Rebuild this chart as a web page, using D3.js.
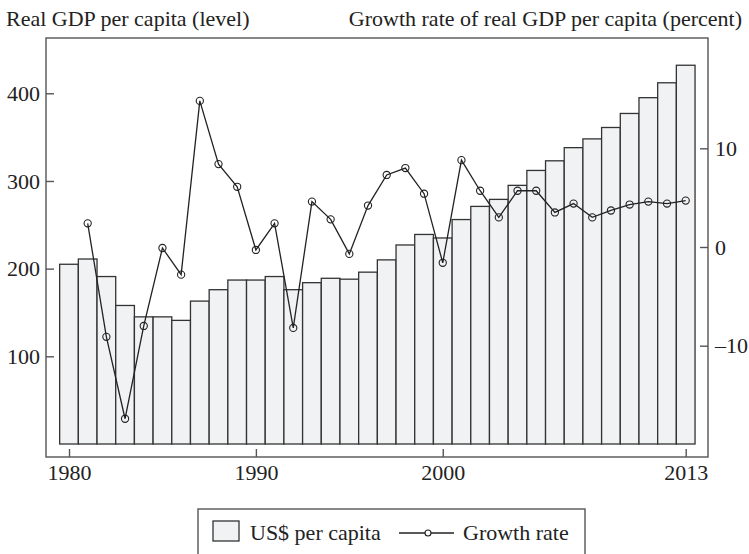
<!DOCTYPE html>
<html>
<head>
<meta charset="utf-8">
<script src="https://cdn.jsdelivr.net/npm/d3@7"></script>
<style>
  body { margin: 0; background: #fff; }
  text { font-family: "Liberation Serif", "DejaVu Serif", serif; fill: #222; }
</style>
</head>
<body>
<script>
var width = 749, height = 554

var years = d3.range(1980, 2014)
var gdpLevel = [205, 211, 191, 158, 145, 145, 141, 163, 176, 187, 187, 191, 176,
  184, 189, 188, 196, 210, 227, 239, 235, 256, 271, 279, 295, 312, 323,
  338, 348, 361, 377, 395, 412, 432]
// growth rate starts in 1981
var growthYears = d3.range(1981, 2014)
var growthRate = [2.4, -9.1, -17.4, -8.0, -0.1, -2.8, 14.8, 8.4, 6.1, -0.3, 2.4,
  -8.2, 4.6, 2.8, -0.7, 4.2, 7.3, 8.0, 5.4, -1.6, 8.8, 5.7, 3.0, 5.7, 5.7,
  3.5, 4.4, 3.0, 3.7, 4.3, 4.6, 4.4, 4.7]
var xTicks = [1980, 1990, 2000, 2013]
var leftTicks = [100, 200, 300, 400]
var rightTicks = [-10, 0, 10]

var frame = {left: 46, right: 708, top: 38, bottom: 457}
var fontSize = "22px"

var svg = d3.select("body")
    .append("svg")
    .attr("width", width)
    .attr("height", height);

var x = d3.scaleLinear().domain([1980, 2013]).range([69, 685.7])
var y = d3.scaleLinear().domain([0, 400]).range([444, 93.3])
var y2 = d3.scaleLinear().domain([-10, 10]).range([345.7, 148.3])
var barW = x(1981) - x(1980)

// bars
svg.selectAll("rect.bar")
    .data(years)
  .enter().append("rect")
    .attr("class", "bar")
    .attr("x", function(d){ return x(d) - barW / 2; })
    .attr("width", barW)
    .attr("y", function(d, i){ return y(gdpLevel[i]); })
    .attr("height", function(d, i){ return y(0) - y(gdpLevel[i]); })
    .attr("fill", "#f1f2f4")
    .attr("stroke", "#333")
    .attr("stroke-width", 1.3);

// growth line
var line = d3.line()
    .x(function(d){ return x(d); })
    .y(function(d, i){ return y2(growthRate[i]); });

svg.append("path")
    .datum(growthYears)
    .attr("d", line)
    .attr("fill", "none")
    .attr("stroke", "#222")
    .attr("stroke-width", 1.3);

svg.selectAll("circle.pt")
    .data(growthYears)
  .enter().append("circle")
    .attr("class", "pt")
    .attr("cx", function(d){ return x(d); })
    .attr("cy", function(d, i){ return y2(growthRate[i]); })
    .attr("r", 3.6)
    .attr("fill", "none")
    .attr("stroke", "#222")
    .attr("stroke-width", 1.1);

// frame
svg.append("rect")
    .attr("x", frame.left).attr("y", frame.top)
    .attr("width", frame.right - frame.left)
    .attr("height", frame.bottom - frame.top)
    .attr("fill", "none")
    .attr("stroke", "#555")
    .attr("stroke-width", 1.4);

// axes
var xAxis = d3.axisTop(x).tickValues(xTicks).tickSize(8).tickFormat(d3.format("d"))
var gx = svg.append("g").attr("transform", "translate(0," + frame.bottom + ")").call(xAxis)
gx.select(".domain").remove()
gx.selectAll("text").attr("y", 23).attr("dy", 0)

var yAxis = d3.axisRight(y).tickValues(leftTicks).tickSize(8)
var gy = svg.append("g").attr("transform", "translate(" + frame.left + ",0)").call(yAxis)
gy.select(".domain").remove()
gy.selectAll("text").attr("x", -6).attr("text-anchor", "end")

var y2Axis = d3.axisLeft(y2).tickValues(rightTicks).tickSize(8)
  .tickFormat(function(d){ return d < 0 ? "\u2013" + Math.abs(d) : d; })
var gy2 = svg.append("g").attr("transform", "translate(" + frame.right + ",0)").call(y2Axis)
gy2.select(".domain").remove()
gy2.selectAll("text").attr("x", 7).attr("text-anchor", "start")

svg.selectAll(".tick line").attr("stroke", "#555").attr("stroke-width", 1.4)
svg.selectAll(".tick text").style("font-size", fontSize).attr("fill", "#222")

// headers
svg.append("text").attr("x", 6).attr("y", 26).style("font-size", fontSize)
    .text("Real GDP per capita (level)")
svg.append("text").attr("x", 742).attr("y", 26).attr("text-anchor", "end").style("font-size", fontSize)
    .text("Growth rate of real GDP per capita (percent)")

// legend
var lg = svg.append("g")
lg.append("rect").attr("x", 198).attr("y", 509).attr("width", 387).attr("height", 60)
    .attr("fill", "none").attr("stroke", "#555").attr("stroke-width", 1.4)
lg.append("rect").attr("x", 213).attr("y", 521).attr("width", 26).attr("height", 20)
    .attr("fill", "#f1f2f4").attr("stroke", "#333").attr("stroke-width", 1.3)
lg.append("text").attr("x", 250).attr("y", 540).style("font-size", fontSize).text("US$ per capita")
lg.append("line").attr("x1", 399).attr("x2", 454).attr("y1", 533).attr("y2", 533)
    .attr("stroke", "#222").attr("stroke-width", 1.3)
lg.append("circle").attr("cx", 428).attr("cy", 533).attr("r", 3)
    .attr("fill", "#fff").attr("stroke", "#222").attr("stroke-width", 1.1)
lg.append("text").attr("x", 463).attr("y", 540).style("font-size", fontSize).text("Growth rate")
</script>
</body>
</html>
